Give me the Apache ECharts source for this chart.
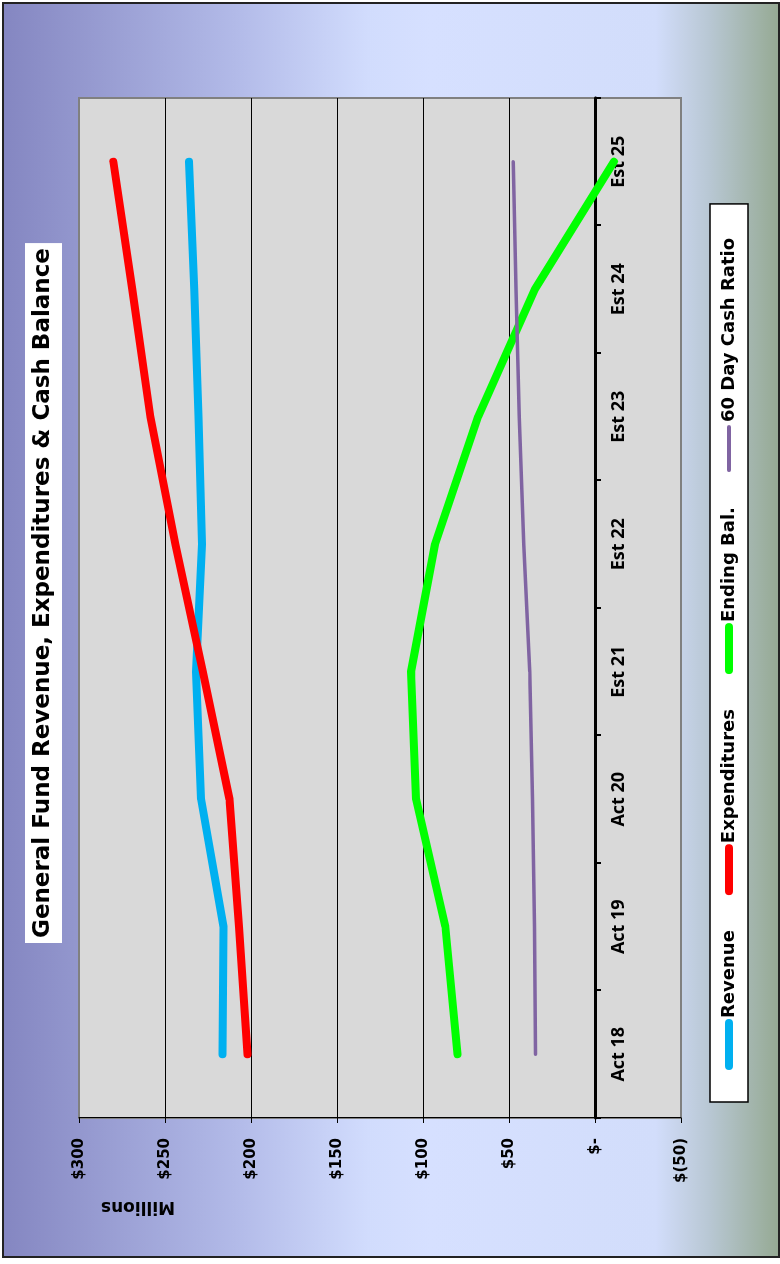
<!DOCTYPE html>
<html>
<head>
<meta charset="utf-8">
<script src="https://cdn.jsdelivr.net/npm/echarts@6/dist/echarts.min.js"></script>
<style>
  html, body { margin: 0; padding: 0; background: #fff; }
  body { width: 780px; height: 1264px; overflow: hidden; position: relative; }
  /* 图表整体逆时针旋转90度 */
  #chart {
    position: absolute; left: 0; top: 0;
    width: 1264px; height: 780px;
    transform-origin: 0 0;
    transform: translate(0, 1264px) rotate(-90deg);
  }
</style>
</head>
<body>
<div id="chart"></div>
<script>
// 数据
const categories = ['Act 18', 'Act 19', 'Act 20', 'Est 21', 'Est 22', 'Est 23', 'Est 24', 'Est 25'];
const revenue = [216.5, 216, 229, 232, 228.5, 230.5, 233, 236];
const expenditures = [202, 207, 212.5, 228, 244, 258.5, 269, 280];
const endingBal = [80, 87, 104, 107, 93, 68, 35, -11];
const cashRatio = [34.6, 35.2, 36.4, 38, 41.4, 44, 46, 47.6];

// 数值轴刻度
const valueTicks = [-50, 0, 50, 100, 150, 200, 250, 300];
const valueLabels = ['$(50)', '$-', '$50', '$100', '$150', '$200', '$250', '$300'];
const valueMin = -50, valueMax = 300;

// 绘图区（未旋转坐标）
const gridTop = 79, gridBottom = 99, chartHeight = 780;
const gridHeight = chartHeight - gridTop - gridBottom;
// 类目轴放在 0 线上（标签随之移动）
const zeroOffset = -gridHeight * (0 - valueMin) / (valueMax - valueMin);

const chart = echarts.init(document.getElementById('chart'));

function lineSeries(name, data, color, width) {
    return {
        name: name, type: 'line', data: data,
        symbol: 'none', smooth: false,
        lineStyle: { color: color, width: width, cap: 'round', join: 'round' },
        itemStyle: { color: color }
    };
}

const option = {
    animation: false,
    graphic: [
        {
            type: 'rect', z: -10, silent: true,
            shape: { x: 7, y: 3, width: 1254, height: 776 },
            style: {
                fill: {
                    type: 'linear', x: 0, y: 0, x2: 0, y2: 1,
                    colorStops: [
                        { offset: 0, color: '#8486c1' },
                        { offset: 0.3, color: '#b2bae8' },
                        { offset: 0.47, color: '#d1dcfd' },
                        { offset: 0.55, color: '#d6e0ff' },
                        { offset: 0.84, color: '#d2ddfb' },
                        { offset: 0.91, color: '#b8c7d3' },
                        { offset: 1, color: '#95a992' }
                    ]
                },
                stroke: '#222', lineWidth: 2
            }
        },
        {
            type: 'text', x: 58, y: 138, rotation: Math.PI / 2,
            style: {
                text: 'Millions', fill: '#000',
                font: 'bold 17px "DejaVu Sans"',
                textAlign: 'center', textVerticalAlign: 'middle'
            }
        }
    ],
    title: {
        text: 'General Fund Revenue, Expenditures & Cash Balance',
        left: 321, top: 25,
        backgroundColor: '#fff',
        padding: [7, 5],
        textStyle: { fontFamily: 'DejaVu Sans', fontWeight: 'bold', fontSize: 23, color: '#000' }
    },
    legend: {
        left: 162, top: 710,
        padding: [10, 34, 10, 32],
        backgroundColor: '#fff', borderColor: '#000', borderWidth: 1.5,
        itemWidth: 43, itemHeight: 18, itemGap: 35,
        itemStyle: { opacity: 0 },
        lineStyle: { width: 8, cap: 'round' },
        textStyle: { fontFamily: 'DejaVu Sans', fontWeight: 'bold', fontSize: 18, color: '#000' },
        data: [
            'Revenue', 'Expenditures', 'Ending Bal.',
            { name: '60 Day Cash Ratio', lineStyle: { width: 4, cap: 'round' } }
        ]
    },
    grid: {
        left: 146, right: 98, top: gridTop, bottom: gridBottom,
        show: true, backgroundColor: '#d9d9d9', borderColor: '#808080', borderWidth: 2
    },
    xAxis: {
        type: 'category', data: categories, boundaryGap: true,
        offset: zeroOffset,
        axisLine: { onZero: false, lineStyle: { color: '#000', width: 3 } },
        axisTick: { show: true, interval: 0, length: 6, lineStyle: { color: '#000', width: 2 } },
        axisLabel: {
            interval: 0, margin: 15, color: '#000',
            fontFamily: 'Open Sans', fontWeight: 'bold', fontSize: 18
        }
    },
    yAxis: {
        type: 'value', min: valueMin, max: valueMax, interval: 50,
        axisLine: { show: true, lineStyle: { color: '#000', width: 1 } },
        axisTick: { show: true, length: 5, lineStyle: { color: '#000' } },
        axisLabel: {
            margin: 20, color: '#000',
            fontFamily: 'DejaVu Sans', fontWeight: 'bold', fontSize: 15,
            formatter: function (v) { return valueLabels[valueTicks.indexOf(v)]; }
        },
        splitLine: {
            show: true,
            lineStyle: { color: ['#808080', '#000', '#000', '#000', '#000', '#000', '#000', '#808080'], width: 1 }
        }
    },
    series: [
        lineSeries('Revenue', revenue, '#00b0f0', 8),
        lineSeries('Expenditures', expenditures, '#ff0000', 8),
        lineSeries('Ending Bal.', endingBal, '#00ff00', 8),
        lineSeries('60 Day Cash Ratio', cashRatio, '#8064a2', 3.5)
    ]
};

chart.setOption(option);
</script>
</body>
</html>
